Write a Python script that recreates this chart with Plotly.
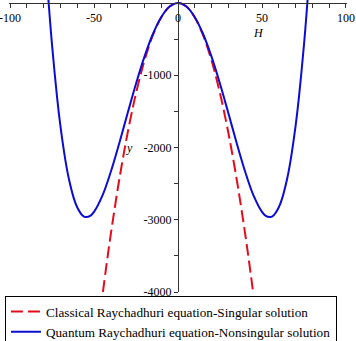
import plotly.graph_objects as go

# Values
H_classical = [-44.7, -42, -40, -37, -35, -32, -30, -27, -25, -22, -20, -17, -15, -12, -10, -7, -5, -2, 0,
               2, 5, 7, 10, 12, 15, 17, 20, 22, 25, 27, 30, 32, 35, 37, 40, 42, 44.7]
y_classical = [-4000, -3528, -3200, -2738, -2450, -2048, -1800, -1458, -1250, -968, -800, -578, -450, -288, -200, -98, -50, -8, 0,
               -8, -50, -98, -200, -288, -450, -578, -800, -968, -1250, -1458, -1800, -2048, -2450, -2738, -3200, -3528, -4000]

H_quantum = [-79, -78, -77, -76, -75, -72, -70, -67, -65, -62, -60, -57, -55, -52, -50, -45, -40, -35, -30, -25, -20, -15, -10, -5, 0,
             5, 10, 15, 20, 25, 30, 35, 40, 45, 50, 52, 55, 57, 60, 62, 65, 67, 70, 72, 75, 76, 77, 78, 79]
y_quantum = [657, 318, 0, -298, -577, -1303, -1701, -2181, -2429, -2704, -2828, -2937, -2963, -2942, -2892, -2667, -2336, -1944, -1527, -1118, -746, -433, -197, -50, 0,
             -50, -197, -433, -746, -1118, -1527, -1944, -2336, -2667, -2892, -2942, -2963, -2937, -2828, -2704, -2429, -2181, -1701, -1303, -577, -298, 0, 318, 657]

x_ticks = [-100, -50, 0, 50, 100]
x_tick_text = ["-100", "-50", "0", "50", "100"]
x_minor = [-90, -80, -70, -60, -40, -30, -20, -10, 10, 20, 30, 40, 60, 70, 80, 90]
y_ticks = [-4000, -3000, -2000, -1000]
y_tick_text = ["-4000", "-3000", "-2000", "-1000"]
y_minor = [-3500, -2500, -1500, -500]

red = "rgb(228,12,28)"
blue = "rgb(12,12,210)"
serif = "'Liberation Serif', 'DejaVu Serif', serif"

fig = go.Figure()
fig.add_trace(go.Scatter(x=H_classical, y=y_classical, mode="lines",
                         name="Classical Raychadhuri equation-Singular solution",
                         line=dict(color=red, width=2, dash="12px,5px", shape="spline")))
fig.add_trace(go.Scatter(x=H_quantum, y=y_quantum, mode="lines",
                         name="Quantum Raychadhuri equation-Nonsingular solution",
                         line=dict(color=blue, width=2, shape="spline")))

axis_color = "#333333"
fig.update_layout(
    width=356, height=341,
    margin=dict(l=9, r=9, t=0, b=49, autoexpand=False),
    paper_bgcolor="white", plot_bgcolor="white",
    font=dict(family=serif, size=12, color="black"),
    xaxis=dict(range=[-100.6, 100.6], anchor="free", position=4000/4041, side="bottom",
               tickmode="array", tickvals=x_ticks, ticktext=x_tick_text,
               ticklabeloverflow="allow", ticklabelposition="outside",
               showline=True, linecolor=axis_color, linewidth=1,
               ticks="outside", ticklen=4, tickcolor=axis_color,
               minor=dict(tickmode="array", tickvals=x_minor, ticks="outside", ticklen=4, tickcolor=axis_color),
               showgrid=False, zeroline=False, tickfont=dict(family=serif, size=12), automargin=False),
    yaxis=dict(range=[-4000, 41], anchor="free", position=0.5, side="left",
               tickmode="array", tickvals=y_ticks, ticktext=y_tick_text,
               ticklabeloverflow="allow",
               showline=True, linecolor=axis_color, linewidth=1,
               ticks="outside", ticklen=4, tickcolor=axis_color,
               minor=dict(tickmode="array", tickvals=y_minor, ticks="outside", ticklen=4, tickcolor=axis_color),
               showgrid=False, zeroline=False, tickfont=dict(family=serif, size=12), automargin=False),
    legend=dict(x=-0.012, y=-0.012, xanchor="left", yanchor="top",
                bordercolor="black", borderwidth=1, bgcolor="rgba(255,255,255,0)",
                font=dict(family=serif, size=13.2), tracegroupgap=0),
    showlegend=True,
)
fig.add_annotation(x=48, y=-414, text="<i>H</i>", showarrow=False, xref="x", yref="y",
                   font=dict(family=serif, size=12))
fig.add_annotation(x=-29, y=-2014, text="<i>y</i>", showarrow=False, xref="x", yref="y",
                   font=dict(family=serif, size=12))

fig.write_html("out.html", config={"displayModeBar": False})
